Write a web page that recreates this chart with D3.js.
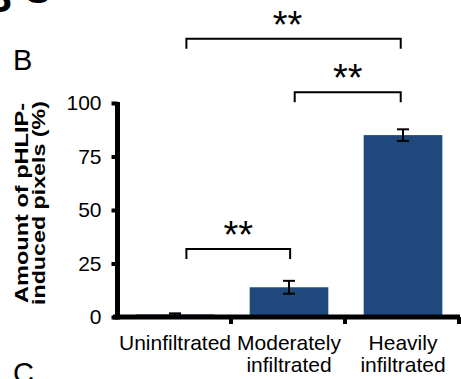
<!DOCTYPE html>
<html><head><meta charset="utf-8">
<script src="https://cdn.jsdelivr.net/npm/d3@7"></script>
<style>
html,body{margin:0;padding:0;background:#fff;}
svg{display:block;font-family:"Liberation Sans",Arial,sans-serif;}
</style></head>
<body><svg id="chart" width="461" height="379"></svg>
<script>
const categories = ["Uninfiltrated", "Moderately infiltrated", "Heavily infiltrated"];
const categoryLines = [["Uninfiltrated"], ["Moderately", "infiltrated"], ["Heavily", "infiltrated"]];
const values = [1.2, 13.9, 85.0];
const errors = [0.5, 3.0, 2.7];
const yTicks = [0, 25, 50, 75, 100];
const yTitleLines = ["Amount of pHLIP-", "induced pixels (%)"];
// significance brackets: from category index, to category index, height (in % units)
const bracketFrom = [0, 1, 0];
const bracketTo = [2, 2, 1];
const bracketLevel = [130, 105, 31.8];
const bracketLabel = ["**", "**", "**"];

const svg = d3.select("#chart");
const color = "#1f497d";

const x = d3.scaleBand().domain(categories).range([118, 460]).padding(0);
const y = d3.scaleLinear().domain([0, 100]).range([317, 103]);
const barW = x.bandwidth() * 0.69;
const cx = c => x(c) + x.bandwidth() / 2;

// partial labels cut off at top
svg.append("text").attr("x", -18).attr("y", 12).attr("font-size", 42).attr("font-weight", "bold").text("B");
svg.append("text").attr("x", 22).attr("y", 3).attr("font-size", 42).attr("font-weight", "bold").text("C");

// panel labels
svg.append("text").attr("x", 13).attr("y", 70).attr("font-size", 29).text("B");
svg.append("text").attr("x", 13).attr("y", 383).attr("font-size", 29).text("C");

// bars
svg.selectAll("rect.bar").data(categories).join("rect")
  .attr("class", "bar")
  .attr("x", c => cx(c) - barW / 2)
  .attr("width", barW)
  .attr("y", (c, i) => y(values[i]))
  .attr("height", (c, i) => y(0) - y(values[i]))
  .attr("fill", color);

// error bars
const eb = svg.append("g").attr("stroke", "#000").attr("stroke-width", 2);
categories.forEach((c, i) => {
  const xc = cx(c), top = y(values[i] + errors[i]), bot = y(values[i] - errors[i]);
  eb.append("line").attr("x1", xc).attr("x2", xc).attr("y1", top).attr("y2", bot);
  eb.append("line").attr("x1", xc - 6).attr("x2", xc + 6).attr("y1", top).attr("y2", top);
  eb.append("line").attr("x1", xc - 6).attr("x2", xc + 6).attr("y1", bot).attr("y2", bot);
});

// y axis
const yAxis = d3.axisLeft(y).tickValues(yTicks).tickSize(6).tickSizeOuter(0).tickPadding(10);
const gy = svg.append("g").attr("transform", "translate(117.5,0)").call(yAxis);
gy.select(".domain").remove();
gy.selectAll(".tick line").attr("stroke", "#000").attr("stroke-width", 4);
gy.selectAll(".tick text").attr("font-size", 21).attr("fill", "#000")
  .attr("font-family", "'Liberation Sans', Arial, sans-serif");
svg.append("line").attr("x1", 117.5).attr("x2", 117.5).attr("y1", y(100) - 1).attr("y2", y(0) + 2.5)
  .attr("stroke", "#000").attr("stroke-width", 5);

// x axis
const xAxis = d3.axisBottom(x).tickSize(0).tickFormat("");
const gx = svg.append("g").attr("transform", `translate(0,${y(0)})`).call(xAxis);
gx.select(".domain").remove();
svg.append("line").attr("x1", 113).attr("x2", 460).attr("y1", y(0)).attr("y2", y(0))
  .attr("stroke", "#000").attr("stroke-width", 5);
svg.selectAll("line.xtick").data(categories).join("line")
  .attr("class", "xtick")
  .attr("x1", c => x(c) + x.bandwidth() - 1).attr("x2", c => x(c) + x.bandwidth() - 1)
  .attr("y1", y(0)).attr("y2", y(0) + 7)
  .attr("stroke", "#000").attr("stroke-width", 4);
gx.selectAll(".tick").each(function (c, i) {
  const t = d3.select(this).append("text").attr("fill", "#000").attr("font-size", 21)
    .attr("text-anchor", "middle");
  categoryLines[i].forEach((ln, k) => {
    t.append("tspan").attr("x", 0).attr("y", 33 + k * 22).text(ln);
  });
});

// y title
const yt = svg.append("text").attr("font-weight", "bold").attr("font-size", 19)
  .attr("text-anchor", "middle").attr("transform", "translate(0,203) rotate(-90)");
yTitleLines.forEach((ln, k) => {
  yt.append("tspan").attr("x", 0).attr("y", 28 + k * 17).text(ln)
    .attr("textLength", k === 0 ? 200 : 204).attr("lengthAdjust", "spacingAndGlyphs");
});

// significance brackets
const fr = [0.6, 0.55, 0.6], tr = [0.48, 0.48, 0.51];
bracketFrom.forEach((f, i) => {
  const x1 = x(categories[f]) + x.bandwidth() * fr[i];
  const x2 = x(categories[bracketTo[i]]) + x.bandwidth() * tr[i];
  const yy = y(bracketLevel[i]);
  svg.append("path")
    .attr("d", `M${x1},${yy + 10}V${yy}H${x2}V${yy + 10}`)
    .attr("fill", "none").attr("stroke", "#000").attr("stroke-width", 2);
  svg.append("text").attr("x", (x1 + x2) / 2 - (i === 0 ? 6 : 0)).attr("y", yy - 1).attr("font-size", 38)
    .attr("text-anchor", "middle").text(bracketLabel[i]);
});
</script>
</body></html>
